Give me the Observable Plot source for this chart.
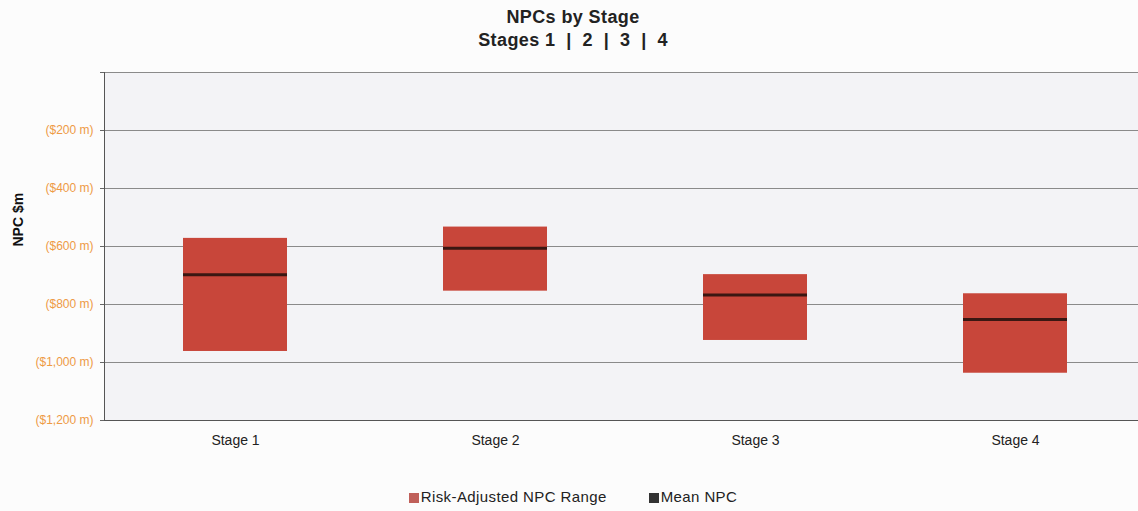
<!DOCTYPE html>
<html>
<head>
<meta charset="utf-8">
<script src="https://cdn.jsdelivr.net/npm/d3@7"></script>
<script src="https://cdn.jsdelivr.net/npm/@observablehq/plot@0.6"></script>
<style>
  html, body { margin: 0; padding: 0; background: #fcfcfc; overflow: hidden; }
  body { width: 1138px; height: 511px; position: relative; font-family: "Liberation Sans", Arial, sans-serif; }
  #title { position: absolute; top: 6px; left: 0; width: 1146px; text-align: center; font-weight: bold; font-size: 18px; line-height: 23px; letter-spacing: 0.4px; color: #222; }
  #chart { position: absolute; top: 55px; left: 0; }
  #legend { position: absolute; top: 488px; left: 0; width: 1146px; text-align: center; font-size: 15px; letter-spacing: 0.4px; color: #222; }
  #legend span.item { display: inline-block; margin: 0 14px; }
  #legend span.item + span.item { margin-left: 28px; }
  #legend i { display: inline-block; width: 10px; height: 10px; margin-right: 2px; vertical-align: -1px; }
</style>
</head>
<body>
<div id="title">NPCs by Stage<br>Stages 1&nbsp; |&nbsp; 2&nbsp; |&nbsp; 3&nbsp; |&nbsp; 4</div>
<div id="chart"></div>
<div id="legend"></div>
<script>
// Net present cost ranges per stage ($m, shown as negatives)
const stages = ["Stage 1", "Stage 2", "Stage 3", "Stage 4"];
const rangeHigh = [-572, -533, -697, -763];
const rangeLow = [-962, -754, -924, -1037];
const meanNPC = [-697, -606, -767, -852];
const yTicks = [0, -200, -400, -600, -800, -1000, -1200];

const seriesNames = ["Risk-Adjusted NPC Range", "Mean NPC"];
const seriesColors = ["#c8463a", "#3a1712"];

const rows = stages.map((s, i) => ({stage: s, high: rangeHigh[i], low: rangeLow[i], mean: meanNPC[i]}));

const fmt = v => v === 0 ? "" : `($${d3.format(",")(-v)} m)`;

const chart = Plot.plot({
  width: 1138,
  height: 410,
  marginTop: 17,
  marginBottom: 45,
  marginLeft: 104,
  marginRight: -8,
  style: {background: "transparent", fontFamily: "Liberation Sans, Arial, sans-serif"},
  x: {domain: stages, paddingInner: 0.6, paddingOuter: 0.3, label: null},
  y: {domain: [-1200, 0], label: null},
  marks: [
    Plot.frame({fill: "#f3f3f6", stroke: null}),
    Plot.ruleY(yTicks, {stroke: "#8a8a8a", strokeWidth: 1}),
    Plot.barY(rows, {x: "stage", y1: "low", y2: "high", fill: seriesColors[0]}),
    Plot.tickY(rows, {x: "stage", y: "mean", stroke: seriesColors[1], strokeWidth: 3}),
    Plot.frame({anchor: "left", stroke: "#555"}),
    Plot.frame({anchor: "bottom", stroke: "#555"}),
    Plot.axisY({ticks: yTicks, tickFormat: fmt, tickSize: 4, tickPadding: 7, fontSize: 12, color: "#ee9a45", stroke: "#666"}),
    Plot.axisX({tickSize: 0, tickPadding: 15, fontSize: 14, fill: "#222"}),
    Plot.text(["NPC $m"], {frameAnchor: "left", rotate: -90, dx: -86, fontWeight: "bold", fontSize: 14, fill: "#111"})
  ]
});
document.getElementById("chart").append(chart);

const legend = document.getElementById("legend");
seriesNames.forEach((name, i) => {
  const item = document.createElement("span");
  item.className = "item";
  const sw = document.createElement("i");
  sw.style.background = i === 0 ? "#c0605a" : "#333";
  item.append(sw, document.createTextNode(name));
  legend.append(item);
});
</script>
</body>
</html>
